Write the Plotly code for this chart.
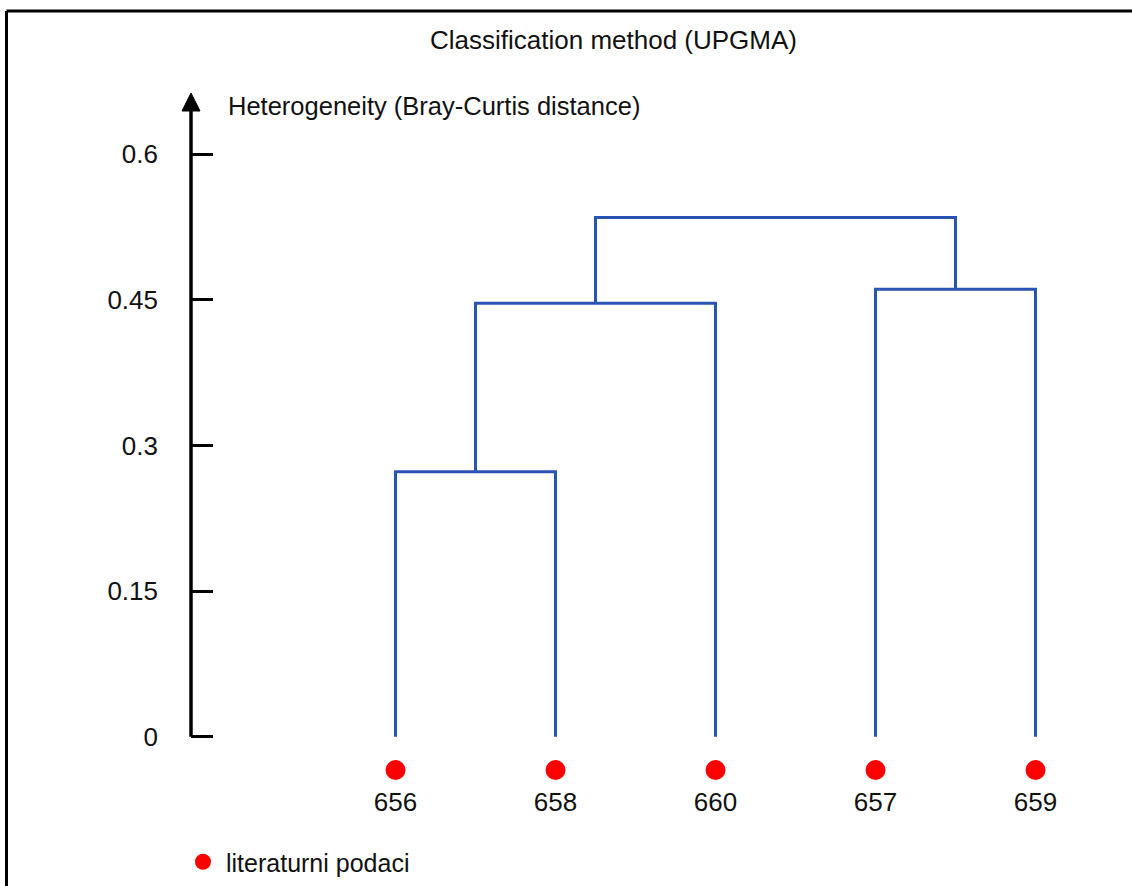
import plotly.graph_objects as go


# leaves in dendrogram order, merges use scipy-style ids (0-4 leaves, 5+ clusters)
LEAVES = ['656', '658', '660', '657', '659']
MERGE_A = [0, 5, 3, 6]
MERGE_B = [1, 2, 4, 7]
MERGE_HEIGHT = [0.273, 0.4465, 0.461, 0.535]
Y_TICKS = [0, 0.15, 0.3, 0.45, 0.6]
Y_TICK_TEXT = ['0', '0.15', '0.3', '0.45', '0.6']
LEGEND_NAME = 'literaturni podaci'

W, H = 1132, 886
FONT = 'Liberation Sans, Arial, sans-serif'
BLUE = '#2a54b4'
RED = '#ff0000'

# pixel calibration of the axes, in page pixels
AXIS_PX = 191
X0_PX, X_STEP_PX = 395.5, 160
Y0_PX, Y_UNIT_PX = 736.7, 970.7


def fx(px):
    """page x pixel -> paper fraction"""
    return px / W


def fy(py):
    """page y pixel -> paper fraction"""
    return 1 - py / H


def px_x(px):
    return (px - X0_PX) / X_STEP_PX


def px_y(py):
    return (Y0_PX - py) / Y_UNIT_PX


def dendro_paths():
    """
    walk the merges and build one polyline per link
    :return: xs, ys lists with None gaps
    """
    pos = {i: float(i) for i in range(len(LEAVES))}
    height = {i: 0.0 for i in range(len(LEAVES))}
    xs, ys = [], []
    for k, (a, b, h) in enumerate(zip(MERGE_A, MERGE_B, MERGE_HEIGHT)):
        xs += [pos[a], pos[a], pos[b], pos[b], None]
        ys += [height[a], h, h, height[b], None]
        node = len(LEAVES) + k
        pos[node] = (pos[a] + pos[b]) / 2
        height[node] = h
    return xs, ys


xs, ys = dendro_paths()
leaf_x = list(range(len(LEAVES)))

fig = go.Figure()
fig.add_trace(go.Scatter(
    x=xs, y=ys, mode='lines',
    line=dict(color=BLUE, width=3),
    showlegend=False, hoverinfo='skip'
))
fig.add_trace(go.Scatter(
    x=leaf_x, y=[px_y(770)] * len(LEAVES), mode='markers',
    marker=dict(color=RED, size=20),
    name=LEGEND_NAME, showlegend=True, cliponaxis=False
))
fig.add_trace(go.Scatter(
    x=leaf_x, y=[px_y(804)] * len(LEAVES), mode='text',
    text=LEAVES, textfont=dict(family=FONT, size=26, color='#111'),
    showlegend=False, hoverinfo='skip', cliponaxis=False
))

shapes = [
    # outer frame (only left and top edges are in view)
    dict(type='line', xref='paper', yref='paper',
         x0=fx(6.5), x1=fx(6.5), y0=0, y1=fy(11),
         line=dict(color='black', width=3)),
    dict(type='line', xref='paper', yref='paper',
         x0=fx(6.5), x1=1, y0=fy(11), y1=fy(11),
         line=dict(color='black', width=3)),
    # y axis with arrow head
    dict(type='line', xref='paper', yref='y',
         x0=fx(AXIS_PX), x1=fx(AXIS_PX), y0=0, y1=px_y(108),
         line=dict(color='black', width=3.5)),
    dict(type='path', xref='paper', yref='paper',
         path=f'M {fx(182)},{fy(111)} L {fx(200)},{fy(111)} '
              f'L {fx(191)},{fy(93)} Z',
         fillcolor='black', line=dict(color='black', width=1)),
]

fig.update_layout(
    width=W, height=H,
    margin=dict(l=0, r=0, t=0, b=0),
    paper_bgcolor='white',
    plot_bgcolor='rgba(0,0,0,0)',
    font=dict(family=FONT, size=26, color='#111'),
    shapes=shapes,
    showlegend=True,
    legend=dict(
        x=fx(180), y=fy(862), xanchor='left', yanchor='middle',
        bgcolor='rgba(0,0,0,0)', font=dict(size=25, color='#111'),
        itemsizing='trace', itemwidth=36
    ),
    annotations=[
        dict(text='Classification method (UPGMA)', xref='paper', yref='paper',
             x=fx(613), y=fy(40), xanchor='center', yanchor='middle',
             showarrow=False, font=dict(size=26)),
        dict(text='Heterogeneity (Bray-Curtis distance)', xref='paper', yref='paper',
             x=fx(226), y=fy(106), xanchor='left', yanchor='middle',
             showarrow=False, font=dict(size=25.5)),
    ],
)
fig.update_xaxes(
    domain=[fx(AXIS_PX), 1], range=[px_x(AXIS_PX), px_x(W)],
    visible=False, fixedrange=True
)
fig.update_yaxes(
    domain=[0, 1], range=[px_y(H), px_y(0)],
    showgrid=False, zeroline=False, showline=False,
    tickvals=Y_TICKS, ticktext=Y_TICK_TEXT,
    ticks='inside', ticklen=22, tickwidth=2.5, tickcolor='black',
    ticklabelstandoff=32, automargin=False,
    tickfont=dict(size=26, color='#111'), fixedrange=True
)

# drop the default 8px body margin so the figure sits at the page corner
fig.write_html(
    'out.html',
    config={'displayModeBar': False},
    post_script="document.body.style.margin='0px';"
)
